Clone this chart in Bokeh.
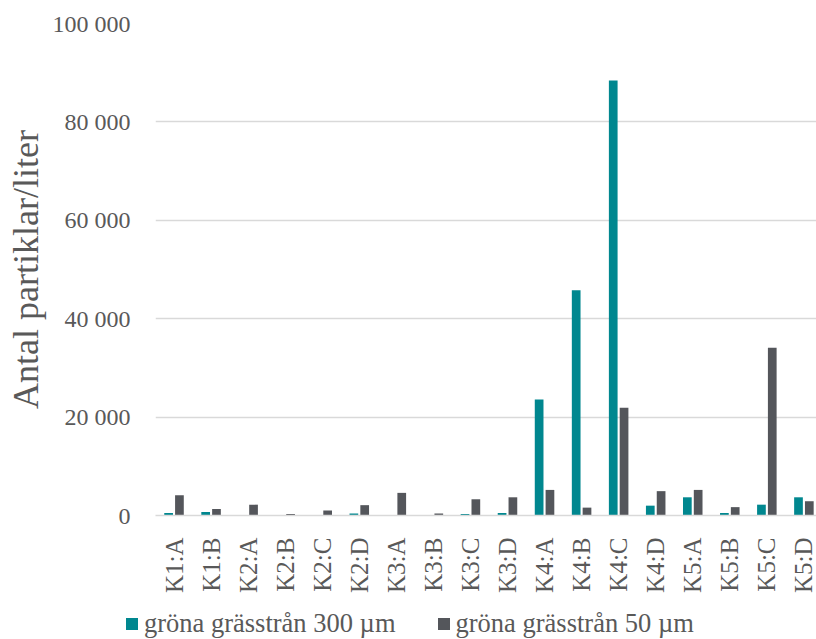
import math
from bokeh.plotting import figure
from bokeh.models import ColumnDataSource, Range1d, FixedTicker
from bokeh.transform import dodge
from bokeh.embed import file_html
from bokeh.resources import INLINE

categories = ["K1:A", "K1:B", "K2:A", "K2:B", "K2:C", "K2:D", "K3:A", "K3:B", "K3:C",
              "K3:D", "K4:A", "K4:B", "K4:C", "K4:D", "K5:A", "K5:B", "K5:C", "K5:D"]
grona_300 = [500, 700, 0, 0, 0, 400, 0, 0, 300, 500, 23600, 45800, 88400, 2000, 3700, 500, 2200, 3700]
grona_50 = [4100, 1300, 2200, 300, 1000, 2100, 4600, 400, 3300, 3700, 5200, 1600, 21900, 4950, 5200, 1700, 34100, 2900]
series_names = ["gröna grässtrån 300 µm", "gröna grässtrån 50 µm"]
y_ticks = [0, 20000, 40000, 60000, 80000, 100000]
y_tick_labels = ["0", "20 000", "40 000", "60 000", "80 000", "100 000"]
y_title = "Antal partiklar/liter"

TEAL = "#00878F"
GRAY = "#54565B"
TEXT = "#595959"
FONT = "Liberation Serif"

pos = [i + 0.5 for i in range(len(categories))]
src = ColumnDataSource(dict(x=pos, a=grona_300, b=grona_50))

p = figure(width=816, height=605, output_backend="svg", toolbar_location=None,
           x_range=Range1d(0, 17.84), y_range=Range1d(0, 100000),
           min_border_left=155, min_border_right=0, min_border_top=23, min_border_bottom=90)
p.outline_line_color = None

p.vbar(x=dodge("x", -0.146, range=p.x_range), top="a", width=0.235, source=src,
       fill_color=TEAL, line_color=None)
p.vbar(x=dodge("x", 0.146, range=p.x_range), top="b", width=0.235, source=src,
       fill_color=GRAY, line_color=None)

# x axis
p.xaxis.ticker = FixedTicker(ticks=pos)
p.xaxis.major_label_overrides = {x: c for x, c in zip(pos, categories)}
p.xaxis.major_label_orientation = math.pi / 2
p.xaxis.major_tick_line_color = None
p.xaxis.minor_tick_line_color = None
p.xaxis.major_tick_out = 0
p.xaxis.major_tick_in = 0
p.xaxis.major_label_standoff = 22
p.xaxis.axis_line_color = "#D9D9D9"
p.xaxis.axis_line_width = 1.5
p.xaxis.major_label_text_font = FONT
p.xaxis.major_label_text_font_size = "25px"
p.xaxis.major_label_text_color = TEXT
p.xgrid.grid_line_color = None

# y axis
p.yaxis.ticker = FixedTicker(ticks=y_ticks)
p.yaxis.major_label_overrides = {t: l for t, l in zip(y_ticks, y_tick_labels)}
p.yaxis.axis_line_color = None
p.yaxis.major_tick_line_color = None
p.yaxis.minor_tick_line_color = None
p.yaxis.major_tick_out = 0
p.yaxis.major_tick_in = 0
p.yaxis.major_label_standoff = 25
p.yaxis.major_label_text_font = FONT
p.yaxis.major_label_text_font_size = "24px"
p.yaxis.major_label_text_color = TEXT
p.yaxis.axis_label = y_title
p.yaxis.axis_label_text_font = FONT
p.yaxis.axis_label_text_font_size = "36px"
p.yaxis.axis_label_text_font_style = "normal"
p.yaxis.axis_label_text_color = TEXT
p.yaxis.axis_label_standoff = 4
p.ygrid.grid_line_color = "#D9D9D9"
p.ygrid.grid_line_width = 1.5

# legend strip below the chart (separate root, so no frame alignment)
pl = figure(width=816, height=34, output_backend="svg", toolbar_location=None,
            x_range=Range1d(0, 1), y_range=Range1d(0, 1),
            x_axis_location=None, y_axis_location=None,
            min_border_left=0, min_border_right=0, min_border_top=0, min_border_bottom=0)
pl.outline_line_color = None
pl.grid.visible = False
pl.vbar(x=[-5], top=[0], width=0.1, fill_color=TEAL, line_color=None, legend_label=series_names[0])
pl.vbar(x=[-5], top=[0], width=0.1, fill_color=GRAY, line_color=None, legend_label=series_names[1])
lg = pl.legend[0]
lg.orientation = "horizontal"
lg.location = (124, 0)
lg.border_line_color = None
lg.background_fill_alpha = 0
lg.padding = 0
lg.margin = 0
lg.spacing = 40
lg.glyph_width = 15
lg.glyph_height = 15
lg.label_standoff = 5
lg.label_text_font = FONT
lg.label_text_font_size = "26.5px"
lg.label_text_color = TEXT

open("out.html", "w").write(file_html([p, pl], INLINE))
